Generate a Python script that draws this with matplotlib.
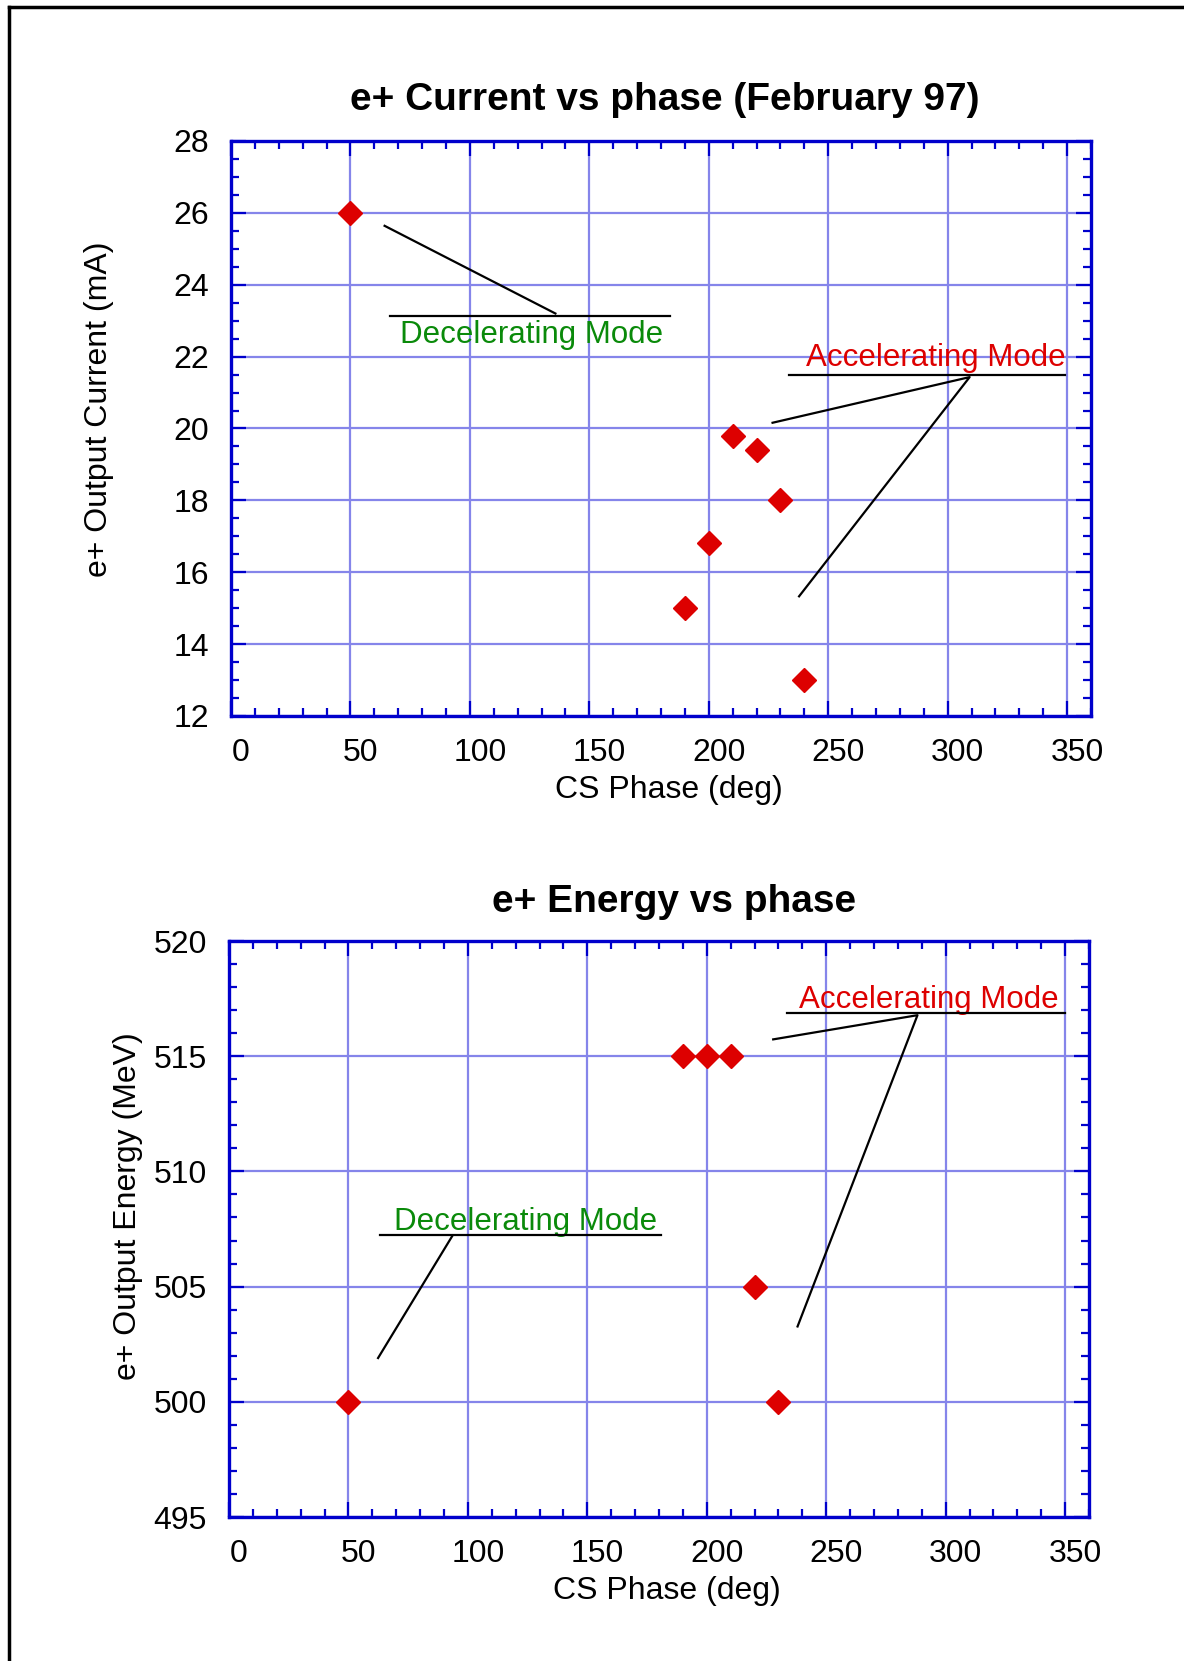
import matplotlib
matplotlib.use("Agg")
import matplotlib.pyplot as plt
import matplotlib.transforms as mtransforms
from matplotlib.ticker import MultipleLocator

plt.rcParams['font.family'] = ['Liberation Sans', 'DejaVu Sans']

# data
phase_cur = [50, 190, 200, 210, 220, 230, 240]
current = [26, 15, 16.8, 19.8, 19.4, 18, 13]

phase_en = [50, 190, 200, 210, 220, 230]
energy = [500, 515, 515, 515, 505, 500]

x_ticks = [0, 50, 100, 150, 200, 250, 300, 350]

W, H = 1184, 1661
fig = plt.figure(figsize=(W / 100, H / 100), dpi=100, facecolor="white")

BLUE = "#0000CC"
GRID = "#8585EA"
RED = "#DD0000"
GREEN = "#0A8A0A"
FS = 23
AFS = 22.5


def px_axes(l, t, r, b):
    return fig.add_axes([l / W, 1 - b / H, (r - l) / W, (b - t) / H])


def style(ax, ymaj, ymin):
    ax.set_xlim(0, 360)
    ax.set_xticks(x_ticks)
    ax.xaxis.set_minor_locator(MultipleLocator(10))
    ax.yaxis.set_major_locator(MultipleLocator(ymaj))
    ax.yaxis.set_minor_locator(MultipleLocator(ymin))
    for s in ax.spines.values():
        s.set_color(BLUE)
        s.set_linewidth(2.4)
    ax.tick_params(which="both", direction="in", top=True, right=True,
                   color=BLUE, width=1.6, labelsize=FS)
    ax.tick_params(which="major", length=11)
    ax.tick_params(axis="x", which="major", pad=16)
    ax.tick_params(axis="y", which="major", pad=16)
    ax.tick_params(which="minor", length=6)
    ax.grid(True, which="major", color=GRID, linewidth=1.6)
    ax.set_axisbelow(True)
    off = mtransforms.ScaledTranslation(0.10, 0, fig.dpi_scale_trans)
    for lbl in ax.get_xticklabels():
        lbl.set_transform(lbl.get_transform() + off)
    ax.set_xlabel("CS Phase (deg)", fontsize=FS)
    ax.xaxis.set_label_coords(0.509, -0.102)


# top panel: current
ax1 = px_axes(231, 141, 1091, 716)
ax1.set_ylim(12, 28)
style(ax1, 2, 0.5)
ax1.plot(phase_cur, current, "D", color=RED, ms=12.5, mec=RED, zorder=5)
ax1.set_title("e+ Current vs phase (February 97)", fontsize=28,
              fontweight="bold", pad=22, x=0.504)
ax1.set_ylabel("e+ Output Current (mA)", fontsize=FS)
ax1.yaxis.set_label_coords(-0.136, 0.534)

k = dict(color="black", lw=1.6, zorder=4)
ax1.plot([66.5, 183.7], [23.14, 23.14], **k)
ax1.plot([64.3, 135.8], [25.64, 23.2], **k)
ax1.text(126, 22.6, "Decelerating Mode", color=GREEN, fontsize=AFS,
         ha="center", va="center")
ax1.plot([233.4, 349.2], [21.49, 21.49], **k)
ax1.plot([226.7, 309.2, 237.8], [20.16, 21.43, 15.33], **k)
ax1.text(295, 21.96, "Accelerating Mode", color=RED, fontsize=AFS,
         ha="center", va="center")

# bottom panel: energy
ax2 = px_axes(229, 941, 1089, 1517)
ax2.set_ylim(495, 520)
style(ax2, 5, 1)
ax2.plot(phase_en, energy, "D", color=RED, ms=12.5, mec=RED, zorder=5)
ax2.set_title("e+ Energy vs phase", fontsize=28, fontweight="bold", pad=21,
              x=0.517)
ax2.set_ylabel("e+ Output Energy (MeV)", fontsize=FS)
ax2.yaxis.set_label_coords(-0.1, 0.54)

ax2.plot([233.6, 349.8], [516.875, 516.875], **k)
ax2.plot([227.8, 288.2, 238.0], [515.73, 516.78, 503.27], **k)
ax2.text(293.1, 517.45, "Accelerating Mode", color=RED, fontsize=AFS,
         ha="center", va="center")
ax2.plot([63.3, 180.7], [507.22, 507.22], **k)
ax2.plot([93.6, 62.4], [507.22, 501.9], **k)
ax2.text(124.2, 507.8, "Decelerating Mode", color=GREEN, fontsize=AFS,
         ha="center", va="center")

# page frame (left and top edges visible)
fig.add_artist(plt.Line2D([9 / W, 9 / W], [0, 1 - 7 / H], color="black",
                          lw=2.5, transform=fig.transFigure))
fig.add_artist(plt.Line2D([9 / W, 1], [1 - 7 / H, 1 - 7 / H], color="black",
                          lw=2.5, transform=fig.transFigure))

fig.savefig("out.png", dpi=100, facecolor="white")
